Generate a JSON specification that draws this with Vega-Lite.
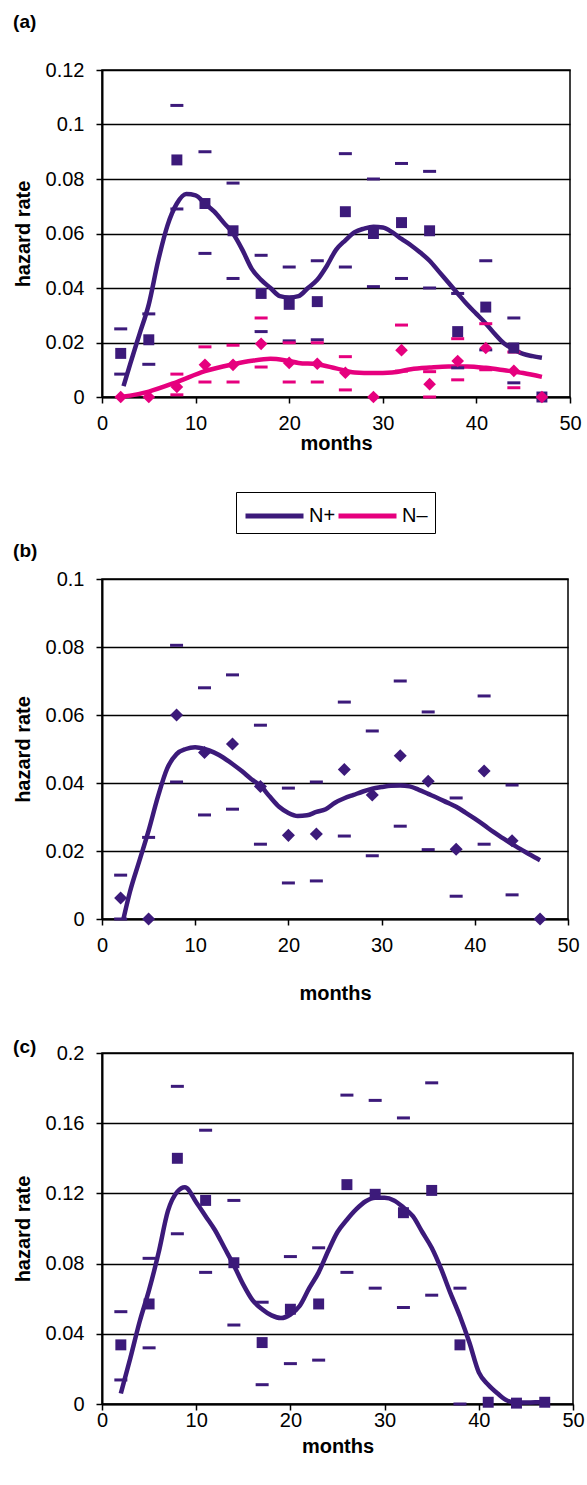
{
  "$schema": "https://vega.github.io/schema/vega-lite/v6.json",
  "padding": {"left": 12, "top": 12, "right": 5, "bottom": 5},
  "config": {
    "font": "Liberation Sans",
    "view": {"stroke": "black", "strokeWidth": 1.5},
    "axis": {"labelFont": "Liberation Sans", "labelFontSize": 20, "labelColor": "black", "titleFont": "Liberation Sans", "titleFontSize": 20, "titleFontWeight": "bold", "titleColor": "black", "domainColor": "black", "domainWidth": 2, "tickColor": "black", "tickWidth": 1.5, "tickSize": 6, "gridColor": "black", "gridWidth": 1.5, "gridOpacity": 1, "labelFlush": false, "labelOverlap": false},
    "axisX": {"grid": false, "labelPadding": 10, "titlePadding": 0},
    "axisY": {"grid": true, "labelPadding": 12, "titlePadding": 12},
    "title": {"font": "Liberation Sans", "fontSize": 19, "fontWeight": "bold", "anchor": "start", "frame": "bounds", "color": "black"}
  },
  "datasets": {
    "obs": [
      {"p": "a", "s": "N+", "m": 2, "v": 0.016, "lo": 0.0084, "hi": 0.025},
      {"p": "a", "s": "N+", "m": 5, "v": 0.021, "lo": 0.012, "hi": 0.0305},
      {"p": "a", "s": "N+", "m": 8, "v": 0.087, "lo": 0.069, "hi": 0.107},
      {"p": "a", "s": "N+", "m": 11, "v": 0.071, "lo": 0.0527, "hi": 0.09},
      {"p": "a", "s": "N+", "m": 14, "v": 0.061, "lo": 0.0435, "hi": 0.0785},
      {"p": "a", "s": "N+", "m": 17, "v": 0.038, "lo": 0.024, "hi": 0.052},
      {"p": "a", "s": "N+", "m": 20, "v": 0.034, "lo": 0.0206, "hi": 0.0477},
      {"p": "a", "s": "N+", "m": 23, "v": 0.035, "lo": 0.021, "hi": 0.05},
      {"p": "a", "s": "N+", "m": 26, "v": 0.068, "lo": 0.0477, "hi": 0.0893},
      {"p": "a", "s": "N+", "m": 29, "v": 0.06, "lo": 0.0405, "hi": 0.08},
      {"p": "a", "s": "N+", "m": 32, "v": 0.064, "lo": 0.0435, "hi": 0.0857},
      {"p": "a", "s": "N+", "m": 35, "v": 0.061, "lo": 0.04, "hi": 0.0828},
      {"p": "a", "s": "N+", "m": 38, "v": 0.024, "lo": 0.0107, "hi": 0.038},
      {"p": "a", "s": "N+", "m": 41, "v": 0.033, "lo": 0.0173, "hi": 0.05},
      {"p": "a", "s": "N+", "m": 44, "v": 0.018, "lo": 0.0052, "hi": 0.029},
      {"p": "a", "s": "N+", "m": 47, "v": 0, "lo": null, "hi": null},
      {"p": "a", "s": "N–", "m": 2, "v": 0, "lo": null, "hi": null},
      {"p": "a", "s": "N–", "m": 5, "v": 0, "lo": null, "hi": null},
      {"p": "a", "s": "N–", "m": 8, "v": 0.0037, "lo": 0.0008, "hi": 0.0084},
      {"p": "a", "s": "N–", "m": 11, "v": 0.0118, "lo": 0.0055, "hi": 0.0184},
      {"p": "a", "s": "N–", "m": 14, "v": 0.0118, "lo": 0.0055, "hi": 0.019},
      {"p": "a", "s": "N–", "m": 17, "v": 0.0195, "lo": 0.011, "hi": 0.029},
      {"p": "a", "s": "N–", "m": 20, "v": 0.0125, "lo": 0.0055, "hi": 0.0199},
      {"p": "a", "s": "N–", "m": 23, "v": 0.0122, "lo": 0.0055, "hi": 0.0199},
      {"p": "a", "s": "N–", "m": 26, "v": 0.0089, "lo": 0.0026, "hi": 0.0148},
      {"p": "a", "s": "N–", "m": 29, "v": 0, "lo": null, "hi": null},
      {"p": "a", "s": "N–", "m": 32, "v": 0.0172, "lo": 0.0095, "hi": 0.0264},
      {"p": "a", "s": "N–", "m": 35, "v": 0.0047, "lo": 0, "hi": 0.0093},
      {"p": "a", "s": "N–", "m": 38, "v": 0.0132, "lo": 0.0063, "hi": 0.0214},
      {"p": "a", "s": "N–", "m": 41, "v": 0.018, "lo": 0.01, "hi": 0.0269},
      {"p": "a", "s": "N–", "m": 44, "v": 0.0096, "lo": 0.0034, "hi": 0.0165},
      {"p": "a", "s": "N–", "m": 47, "v": 0, "lo": null, "hi": null},
      {"p": "b", "s": "N+", "m": 2, "v": 0.0062, "lo": 0, "hi": 0.0129},
      {"p": "b", "s": "N+", "m": 5, "v": 0, "lo": null, "hi": 0.024},
      {"p": "b", "s": "N+", "m": 8, "v": 0.06, "lo": 0.0403, "hi": 0.0805},
      {"p": "b", "s": "N+", "m": 11, "v": 0.049, "lo": 0.0306, "hi": 0.068},
      {"p": "b", "s": "N+", "m": 14, "v": 0.0515, "lo": 0.0323, "hi": 0.0718},
      {"p": "b", "s": "N+", "m": 17, "v": 0.039, "lo": 0.022, "hi": 0.057},
      {"p": "b", "s": "N+", "m": 20, "v": 0.0246, "lo": 0.0106, "hi": 0.0385},
      {"p": "b", "s": "N+", "m": 23, "v": 0.025, "lo": 0.0112, "hi": 0.0403},
      {"p": "b", "s": "N+", "m": 26, "v": 0.044, "lo": 0.0244, "hi": 0.0638},
      {"p": "b", "s": "N+", "m": 29, "v": 0.0365, "lo": 0.0186, "hi": 0.0553},
      {"p": "b", "s": "N+", "m": 32, "v": 0.048, "lo": 0.0273, "hi": 0.07},
      {"p": "b", "s": "N+", "m": 35, "v": 0.0405, "lo": 0.0204, "hi": 0.0609},
      {"p": "b", "s": "N+", "m": 38, "v": 0.0205, "lo": 0.0067, "hi": 0.0356},
      {"p": "b", "s": "N+", "m": 41, "v": 0.0435, "lo": 0.022, "hi": 0.0656},
      {"p": "b", "s": "N+", "m": 44, "v": 0.023, "lo": 0.0071, "hi": 0.0394},
      {"p": "b", "s": "N+", "m": 47, "v": 0, "lo": null, "hi": null},
      {"p": "c", "s": "N+", "m": 2, "v": 0.0337, "lo": 0.0137, "hi": 0.0526},
      {"p": "c", "s": "N+", "m": 5, "v": 0.057, "lo": 0.032, "hi": 0.083},
      {"p": "c", "s": "N+", "m": 8, "v": 0.14, "lo": 0.097, "hi": 0.181},
      {"p": "c", "s": "N+", "m": 11, "v": 0.116, "lo": 0.075, "hi": 0.156},
      {"p": "c", "s": "N+", "m": 14, "v": 0.0805, "lo": 0.045, "hi": 0.116},
      {"p": "c", "s": "N+", "m": 17, "v": 0.035, "lo": 0.011, "hi": 0.058},
      {"p": "c", "s": "N+", "m": 20, "v": 0.054, "lo": 0.023, "hi": 0.084},
      {"p": "c", "s": "N+", "m": 23, "v": 0.057, "lo": 0.025, "hi": 0.089},
      {"p": "c", "s": "N+", "m": 26, "v": 0.125, "lo": 0.075, "hi": 0.176},
      {"p": "c", "s": "N+", "m": 29, "v": 0.1195, "lo": 0.066, "hi": 0.173},
      {"p": "c", "s": "N+", "m": 32, "v": 0.109, "lo": 0.055, "hi": 0.163},
      {"p": "c", "s": "N+", "m": 35, "v": 0.1217, "lo": 0.062, "hi": 0.183},
      {"p": "c", "s": "N+", "m": 38, "v": 0.0337, "lo": 0, "hi": 0.066},
      {"p": "c", "s": "N+", "m": 41, "v": 0.001, "lo": null, "hi": null},
      {"p": "c", "s": "N+", "m": 44, "v": 0.0005, "lo": null, "hi": null},
      {"p": "c", "s": "N+", "m": 47, "v": 0.001, "lo": null, "hi": null}
    ],
    "curve": [
      {"p": "a", "s": "N+", "m": 2.3, "v": 0.004}, {"p": "a", "s": "N+", "m": 3, "v": 0.012}, {"p": "a", "s": "N+", "m": 4, "v": 0.023}, {"p": "a", "s": "N+", "m": 5, "v": 0.034}, {"p": "a", "s": "N+", "m": 6, "v": 0.05}, {"p": "a", "s": "N+", "m": 7, "v": 0.063}, {"p": "a", "s": "N+", "m": 8, "v": 0.071}, {"p": "a", "s": "N+", "m": 9, "v": 0.0745}, {"p": "a", "s": "N+", "m": 10, "v": 0.074}, {"p": "a", "s": "N+", "m": 11, "v": 0.071}, {"p": "a", "s": "N+", "m": 12, "v": 0.068}, {"p": "a", "s": "N+", "m": 13, "v": 0.064}, {"p": "a", "s": "N+", "m": 14, "v": 0.06}, {"p": "a", "s": "N+", "m": 15, "v": 0.054}, {"p": "a", "s": "N+", "m": 16, "v": 0.047}, {"p": "a", "s": "N+", "m": 17, "v": 0.043}, {"p": "a", "s": "N+", "m": 18, "v": 0.04}, {"p": "a", "s": "N+", "m": 19, "v": 0.037}, {"p": "a", "s": "N+", "m": 20, "v": 0.0365}, {"p": "a", "s": "N+", "m": 21, "v": 0.037}, {"p": "a", "s": "N+", "m": 22, "v": 0.04}, {"p": "a", "s": "N+", "m": 23, "v": 0.043}, {"p": "a", "s": "N+", "m": 24, "v": 0.048}, {"p": "a", "s": "N+", "m": 25, "v": 0.054}, {"p": "a", "s": "N+", "m": 26, "v": 0.0575}, {"p": "a", "s": "N+", "m": 27, "v": 0.0605}, {"p": "a", "s": "N+", "m": 28, "v": 0.0618}, {"p": "a", "s": "N+", "m": 29, "v": 0.0625}, {"p": "a", "s": "N+", "m": 30, "v": 0.0622}, {"p": "a", "s": "N+", "m": 31, "v": 0.0605}, {"p": "a", "s": "N+", "m": 32, "v": 0.058}, {"p": "a", "s": "N+", "m": 33, "v": 0.0557}, {"p": "a", "s": "N+", "m": 34, "v": 0.053}, {"p": "a", "s": "N+", "m": 35, "v": 0.05}, {"p": "a", "s": "N+", "m": 36, "v": 0.046}, {"p": "a", "s": "N+", "m": 37, "v": 0.042}, {"p": "a", "s": "N+", "m": 38, "v": 0.038}, {"p": "a", "s": "N+", "m": 39, "v": 0.034}, {"p": "a", "s": "N+", "m": 40, "v": 0.0305}, {"p": "a", "s": "N+", "m": 41, "v": 0.027}, {"p": "a", "s": "N+", "m": 42, "v": 0.023}, {"p": "a", "s": "N+", "m": 43, "v": 0.0195}, {"p": "a", "s": "N+", "m": 44, "v": 0.0175}, {"p": "a", "s": "N+", "m": 45, "v": 0.0158}, {"p": "a", "s": "N+", "m": 46, "v": 0.015}, {"p": "a", "s": "N+", "m": 47, "v": 0.0144},
      {"p": "a", "s": "N–", "m": 2, "v": 0}, {"p": "a", "s": "N–", "m": 3, "v": 0.0005}, {"p": "a", "s": "N–", "m": 5, "v": 0.002}, {"p": "a", "s": "N–", "m": 8, "v": 0.0055}, {"p": "a", "s": "N–", "m": 11, "v": 0.0095}, {"p": "a", "s": "N–", "m": 14, "v": 0.012}, {"p": "a", "s": "N–", "m": 16, "v": 0.0133}, {"p": "a", "s": "N–", "m": 18, "v": 0.014}, {"p": "a", "s": "N–", "m": 19.5, "v": 0.0135}, {"p": "a", "s": "N–", "m": 21, "v": 0.0125}, {"p": "a", "s": "N–", "m": 23, "v": 0.012}, {"p": "a", "s": "N–", "m": 25, "v": 0.0105}, {"p": "a", "s": "N–", "m": 27, "v": 0.009}, {"p": "a", "s": "N–", "m": 29, "v": 0.0088}, {"p": "a", "s": "N–", "m": 31, "v": 0.009}, {"p": "a", "s": "N–", "m": 33, "v": 0.0102}, {"p": "a", "s": "N–", "m": 35, "v": 0.0108}, {"p": "a", "s": "N–", "m": 37, "v": 0.0112}, {"p": "a", "s": "N–", "m": 39, "v": 0.0112}, {"p": "a", "s": "N–", "m": 41, "v": 0.0107}, {"p": "a", "s": "N–", "m": 43, "v": 0.0098}, {"p": "a", "s": "N–", "m": 45, "v": 0.0088}, {"p": "a", "s": "N–", "m": 47, "v": 0.0074},
      {"p": "b", "s": "N+", "m": 2.3, "v": 0}, {"p": "b", "s": "N+", "m": 3, "v": 0.008}, {"p": "b", "s": "N+", "m": 4, "v": 0.017}, {"p": "b", "s": "N+", "m": 5, "v": 0.026}, {"p": "b", "s": "N+", "m": 6, "v": 0.036}, {"p": "b", "s": "N+", "m": 7, "v": 0.0443}, {"p": "b", "s": "N+", "m": 8, "v": 0.0485}, {"p": "b", "s": "N+", "m": 9, "v": 0.05}, {"p": "b", "s": "N+", "m": 10, "v": 0.0505}, {"p": "b", "s": "N+", "m": 11, "v": 0.05}, {"p": "b", "s": "N+", "m": 12, "v": 0.049}, {"p": "b", "s": "N+", "m": 13, "v": 0.0475}, {"p": "b", "s": "N+", "m": 14, "v": 0.0456}, {"p": "b", "s": "N+", "m": 15, "v": 0.0435}, {"p": "b", "s": "N+", "m": 16, "v": 0.0412}, {"p": "b", "s": "N+", "m": 17, "v": 0.0392}, {"p": "b", "s": "N+", "m": 18, "v": 0.036}, {"p": "b", "s": "N+", "m": 19, "v": 0.033}, {"p": "b", "s": "N+", "m": 20, "v": 0.0312}, {"p": "b", "s": "N+", "m": 21, "v": 0.0303}, {"p": "b", "s": "N+", "m": 22, "v": 0.0305}, {"p": "b", "s": "N+", "m": 23, "v": 0.0315}, {"p": "b", "s": "N+", "m": 24, "v": 0.0323}, {"p": "b", "s": "N+", "m": 25, "v": 0.0342}, {"p": "b", "s": "N+", "m": 26, "v": 0.0355}, {"p": "b", "s": "N+", "m": 27, "v": 0.0365}, {"p": "b", "s": "N+", "m": 28, "v": 0.0375}, {"p": "b", "s": "N+", "m": 29, "v": 0.0383}, {"p": "b", "s": "N+", "m": 30, "v": 0.0388}, {"p": "b", "s": "N+", "m": 31, "v": 0.0392}, {"p": "b", "s": "N+", "m": 32, "v": 0.0393}, {"p": "b", "s": "N+", "m": 33, "v": 0.039}, {"p": "b", "s": "N+", "m": 34, "v": 0.038}, {"p": "b", "s": "N+", "m": 35, "v": 0.0368}, {"p": "b", "s": "N+", "m": 36, "v": 0.0356}, {"p": "b", "s": "N+", "m": 37, "v": 0.0343}, {"p": "b", "s": "N+", "m": 38, "v": 0.033}, {"p": "b", "s": "N+", "m": 39, "v": 0.0313}, {"p": "b", "s": "N+", "m": 40, "v": 0.0295}, {"p": "b", "s": "N+", "m": 41, "v": 0.0276}, {"p": "b", "s": "N+", "m": 42, "v": 0.0256}, {"p": "b", "s": "N+", "m": 43, "v": 0.0238}, {"p": "b", "s": "N+", "m": 44, "v": 0.022}, {"p": "b", "s": "N+", "m": 45, "v": 0.0204}, {"p": "b", "s": "N+", "m": 46, "v": 0.0188}, {"p": "b", "s": "N+", "m": 47, "v": 0.0173},
      {"p": "c", "s": "N+", "m": 2, "v": 0.006}, {"p": "c", "s": "N+", "m": 3, "v": 0.026}, {"p": "c", "s": "N+", "m": 4, "v": 0.047}, {"p": "c", "s": "N+", "m": 5, "v": 0.065}, {"p": "c", "s": "N+", "m": 6, "v": 0.086}, {"p": "c", "s": "N+", "m": 7, "v": 0.11}, {"p": "c", "s": "N+", "m": 8, "v": 0.121}, {"p": "c", "s": "N+", "m": 8.8, "v": 0.1235}, {"p": "c", "s": "N+", "m": 10, "v": 0.115}, {"p": "c", "s": "N+", "m": 11, "v": 0.107}, {"p": "c", "s": "N+", "m": 12, "v": 0.099}, {"p": "c", "s": "N+", "m": 13, "v": 0.089}, {"p": "c", "s": "N+", "m": 14, "v": 0.079}, {"p": "c", "s": "N+", "m": 15, "v": 0.068}, {"p": "c", "s": "N+", "m": 16, "v": 0.059}, {"p": "c", "s": "N+", "m": 17, "v": 0.054}, {"p": "c", "s": "N+", "m": 18, "v": 0.0505}, {"p": "c", "s": "N+", "m": 19, "v": 0.049}, {"p": "c", "s": "N+", "m": 20, "v": 0.051}, {"p": "c", "s": "N+", "m": 21, "v": 0.056}, {"p": "c", "s": "N+", "m": 22, "v": 0.066}, {"p": "c", "s": "N+", "m": 23, "v": 0.075}, {"p": "c", "s": "N+", "m": 24, "v": 0.087}, {"p": "c", "s": "N+", "m": 25, "v": 0.098}, {"p": "c", "s": "N+", "m": 26, "v": 0.105}, {"p": "c", "s": "N+", "m": 27, "v": 0.111}, {"p": "c", "s": "N+", "m": 28, "v": 0.1155}, {"p": "c", "s": "N+", "m": 29, "v": 0.1175}, {"p": "c", "s": "N+", "m": 30, "v": 0.1175}, {"p": "c", "s": "N+", "m": 31, "v": 0.116}, {"p": "c", "s": "N+", "m": 32, "v": 0.112}, {"p": "c", "s": "N+", "m": 33, "v": 0.107}, {"p": "c", "s": "N+", "m": 34, "v": 0.098}, {"p": "c", "s": "N+", "m": 35, "v": 0.089}, {"p": "c", "s": "N+", "m": 36, "v": 0.077}, {"p": "c", "s": "N+", "m": 37, "v": 0.063}, {"p": "c", "s": "N+", "m": 38, "v": 0.05}, {"p": "c", "s": "N+", "m": 39, "v": 0.035}, {"p": "c", "s": "N+", "m": 40, "v": 0.018}, {"p": "c", "s": "N+", "m": 41, "v": 0.011}, {"p": "c", "s": "N+", "m": 42, "v": 0.006}, {"p": "c", "s": "N+", "m": 43, "v": 0.002}, {"p": "c", "s": "N+", "m": 44, "v": 0.0008}, {"p": "c", "s": "N+", "m": 45, "v": 0.0008}, {"p": "c", "s": "N+", "m": 46, "v": 0.001}, {"p": "c", "s": "N+", "m": 47, "v": 0.001}
    ]
  },
  "vconcat": [
    {
      "spacing": 87,
      "vconcat": [
        {
          "title": {"text": "(a)", "offset": 28},
          "width": 468, "height": 327,
          "encoding": {
            "x": {"field": "m", "type": "quantitative", "scale": {"domain": [0, 50], "nice": false}, "axis": {"values": [0, 10, 20, 30, 40, 50], "title": "months"}}
          },
          "layer": [
            {
              "data": {"name": "curve"},
              "transform": [{"filter": "datum.p === 'a'"}],
              "mark": {"type": "line", "strokeWidth": 4.5, "interpolate": "monotone"},
              "encoding": {
                "y": {"field": "v", "type": "quantitative", "scale": {"domain": [0, 0.12], "nice": false}, "axis": {"values": [0, 0.02, 0.04, 0.06, 0.08, 0.1, 0.12], "format": "~g", "title": "hazard rate"}},
                "color": {"field": "s", "type": "nominal", "scale": {"domain": ["N+", "N–"], "range": ["#3c1a7a", "#e6007e"]},
                  "legend": {"orient": "none", "legendX": 134, "legendY": 422, "direction": "horizontal", "title": null, "symbolType": "M-1,0H3", "symbolSize": 841, "symbolStrokeWidth": 5, "labelFontSize": 20, "labelFont": "Liberation Sans", "labelColor": "black", "strokeColor": "black", "padding": 7, "columnPadding": -12, "labelOffset": 32}}
              }
            },
            {
              "data": {"name": "obs"},
              "transform": [{"filter": "datum.p === 'a' && datum.s === 'N+'"}, {"fold": ["lo", "hi"], "as": ["k", "bound"]}],
              "mark": {"type": "tick", "orient": "horizontal", "size": 13, "thickness": 3, "opacity": 1, "color": "#3c1a7a"},
              "encoding": {"y": {"field": "bound", "type": "quantitative", "title": "hazard rate"}}
            },
            {
              "data": {"name": "obs"},
              "transform": [{"filter": "datum.p === 'a' && datum.s === 'N–'"}, {"fold": ["lo", "hi"], "as": ["k", "bound"]}],
              "mark": {"type": "tick", "orient": "horizontal", "size": 13, "thickness": 3, "opacity": 1, "color": "#e6007e"},
              "encoding": {"y": {"field": "bound", "type": "quantitative", "title": "hazard rate"}}
            },
            {
              "data": {"name": "obs"},
              "transform": [{"filter": "datum.p === 'a' && datum.s === 'N+'"}],
              "mark": {"type": "point", "shape": "square", "filled": true, "size": 120, "opacity": 1, "color": "#3c1a7a"},
              "encoding": {"y": {"field": "v", "type": "quantitative", "title": "hazard rate"}}
            },
            {
              "data": {"name": "obs"},
              "transform": [{"filter": "datum.p === 'a' && datum.s === 'N–'"}],
              "mark": {"type": "point", "shape": "diamond", "filled": true, "size": 160, "opacity": 1, "color": "#e6007e"},
              "encoding": {"y": {"field": "v", "type": "quantitative", "title": "hazard rate"}}
            }
          ]
        },
        {
          "title": {"text": "(b)", "offset": 8},
          "width": 466, "height": 340,
          "encoding": {
            "x": {"field": "m", "type": "quantitative", "scale": {"domain": [0, 50], "nice": false}, "axis": {"values": [0, 10, 20, 30, 40, 50], "title": "months", "labelPadding": 10, "titlePadding": 28}}
          },
          "layer": [
            {
              "data": {"name": "curve"},
              "transform": [{"filter": "datum.p === 'b'"}],
              "mark": {"type": "line", "strokeWidth": 4.5, "interpolate": "monotone", "color": "#3c1a7a"},
              "encoding": {
                "y": {"field": "v", "type": "quantitative", "scale": {"domain": [0, 0.1], "nice": false}, "axis": {"values": [0, 0.02, 0.04, 0.06, 0.08, 0.1], "format": "~g", "title": "hazard rate"}}
              }
            },
            {
              "data": {"name": "obs"},
              "transform": [{"filter": "datum.p === 'b'"}, {"fold": ["lo", "hi"], "as": ["k", "bound"]}],
              "mark": {"type": "tick", "orient": "horizontal", "size": 13, "thickness": 3, "opacity": 1, "color": "#3c1a7a"},
              "encoding": {"y": {"field": "bound", "type": "quantitative", "title": "hazard rate"}}
            },
            {
              "data": {"name": "obs"},
              "transform": [{"filter": "datum.p === 'b'"}],
              "mark": {"type": "point", "shape": "diamond", "filled": true, "size": 170, "opacity": 1, "color": "#3c1a7a"},
              "encoding": {"y": {"field": "v", "type": "quantitative", "title": "hazard rate"}}
            }
          ]
        }
      ]
    },
    {
      "title": {"text": "(c)", "offset": -14},
      "width": 471, "height": 351,
      "encoding": {
        "x": {"field": "m", "type": "quantitative", "scale": {"domain": [0, 50], "nice": false}, "axis": {"values": [0, 10, 20, 30, 40, 50], "title": "months", "labelPadding": 0, "titlePadding": 6}}
      },
      "layer": [
        {
          "data": {"name": "curve"},
          "transform": [{"filter": "datum.p === 'c'"}],
          "mark": {"type": "line", "strokeWidth": 4.5, "interpolate": "monotone", "color": "#3c1a7a"},
          "encoding": {
            "y": {"field": "v", "type": "quantitative", "scale": {"domain": [0, 0.2], "nice": false}, "axis": {"values": [0, 0.04, 0.08, 0.12, 0.16, 0.2], "format": "~g", "title": "hazard rate"}}
          }
        },
        {
          "data": {"name": "obs"},
          "transform": [{"filter": "datum.p === 'c'"}, {"fold": ["lo", "hi"], "as": ["k", "bound"]}],
          "mark": {"type": "tick", "orient": "horizontal", "size": 13, "thickness": 3, "opacity": 1, "color": "#3c1a7a"},
          "encoding": {"y": {"field": "bound", "type": "quantitative", "title": "hazard rate"}}
        },
        {
          "data": {"name": "obs"},
          "transform": [{"filter": "datum.p === 'c'"}],
          "mark": {"type": "point", "shape": "square", "filled": true, "size": 120, "opacity": 1, "color": "#3c1a7a"},
          "encoding": {"y": {"field": "v", "type": "quantitative", "title": "hazard rate"}}
        }
      ]
    }
  ],
  "spacing": 33
}
